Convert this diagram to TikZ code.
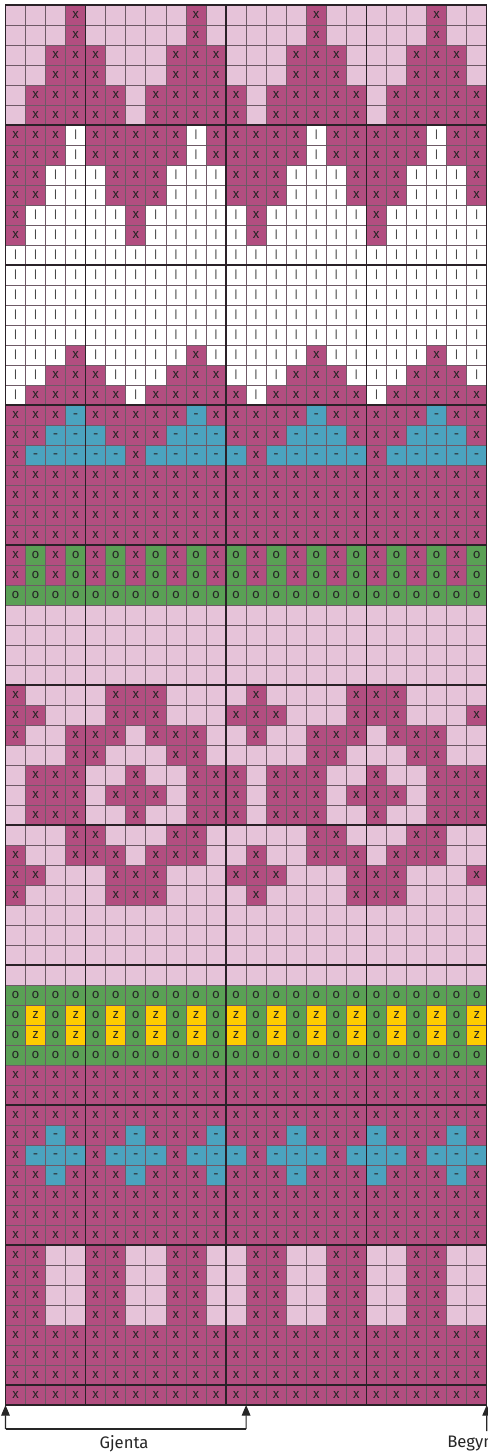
\documentclass[tikz,border=0pt]{standalone}
\usepackage{fontspec}
\setmainfont{Fira Sans}
\usetikzlibrary{arrows.meta}
\definecolor{colX}{HTML}{B24E80}
\definecolor{colL}{HTML}{E6C3D9}
\definecolor{colW}{HTML}{FFFFFF}
\definecolor{colB}{HTML}{4BA3BF}
\definecolor{colG}{HTML}{5AA055}
\definecolor{colY}{HTML}{FFCC00}
\definecolor{gridc}{HTML}{6E5A66}
\definecolor{heavyc}{HTML}{2A2228}
\newcount\rowno
\newcount\colno
\def\symX{x}\def\symL{}\def\symW{|}\def\symB{\vphantom{x}-}\def\symG{o}\def\symY{z}
\tikzset{
  cell/.style={draw=gridc, line width=0.6pt, minimum width=15.04pt, minimum height=15pt,
    inner sep=0pt, outer sep=0pt, anchor=center, text=black!85,
    font=\fontsize{10}{10}\selectfont},
  cellX/.style={fill=colX},
  cellL/.style={fill=colL},
  cellW/.style={fill=colW, font=\fontsize{8}{8}\selectfont},
  cellB/.style={fill=colB},
  cellG/.style={fill=colG},
  cellY/.style={fill=colY},
  heavy/.style={draw=heavyc, line width=1.0pt},
  bracket/.style={draw=black!85, line width=0.9pt},
  arr/.style={bracket, -{Triangle[length=8pt,width=6.5pt]}},
  lbl/.style={inner sep=0pt, text=black!85, font=\fontsize{12.5}{14}\selectfont}
}
\def\cellput#1{%
  \edef\cellname{c-\the\rowno-\the\colno}%
  \node[cell, cell#1] (\cellname) at ({5.5+20.05*(\the\colno+0.5)},{5+20*(\the\rowno+0.5)}) {\csname sym#1\endcsname};%
  \global\advance\colno by 1\relax}
\def\cellparse#1{\ifx\relax#1\let\cellnext\relax\else\def\cellnext{\cellput#1\cellparse}\fi\cellnext}
\def\cellrow#1#2{\global\rowno=#1\relax\global\colno=0\relax\cellparse#2\relax}
\begin{document}
\begin{tikzpicture}[x=0.75pt,y=-0.75pt]
\useasboundingbox (0,0) rectangle (488,1455);
\fill[white] (0,0) rectangle (488,1455);
\clip (0,0) rectangle (488,1455);
\cellrow{0}{LLLXLLLLLXLLLLLXLLLLLXLL}
\cellrow{1}{LLLXLLLLLXLLLLLXLLLLLXLL}
\cellrow{2}{LLXXXLLLXXXLLLXXXLLLXXXL}
\cellrow{3}{LLXXXLLLXXXLLLXXXLLLXXXL}
\cellrow{4}{LXXXXXLXXXXXLXXXXXLXXXXX}
\cellrow{5}{LXXXXXLXXXXXLXXXXXLXXXXX}
\cellrow{6}{XXXWXXXXXWXXXXXWXXXXXWXX}
\cellrow{7}{XXXWXXXXXWXXXXXWXXXXXWXX}
\cellrow{8}{XXWWWXXXWWWXXXWWWXXXWWWX}
\cellrow{9}{XXWWWXXXWWWXXXWWWXXXWWWX}
\cellrow{10}{XWWWWWXWWWWWXWWWWWXWWWWW}
\cellrow{11}{XWWWWWXWWWWWXWWWWWXWWWWW}
\cellrow{12}{WWWWWWWWWWWWWWWWWWWWWWWW}
\cellrow{13}{WWWWWWWWWWWWWWWWWWWWWWWW}
\cellrow{14}{WWWWWWWWWWWWWWWWWWWWWWWW}
\cellrow{15}{WWWWWWWWWWWWWWWWWWWWWWWW}
\cellrow{16}{WWWWWWWWWWWWWWWWWWWWWWWW}
\cellrow{17}{WWWXWWWWWXWWWWWXWWWWWXWW}
\cellrow{18}{WWXXXWWWXXXWWWXXXWWWXXXW}
\cellrow{19}{WXXXXXWXXXXXWXXXXXWXXXXX}
\cellrow{20}{XXXBXXXXXBXXXXXBXXXXXBXX}
\cellrow{21}{XXBBBXXXBBBXXXBBBXXXBBBX}
\cellrow{22}{XBBBBBXBBBBBXBBBBBXBBBBB}
\cellrow{23}{XXXXXXXXXXXXXXXXXXXXXXXX}
\cellrow{24}{XXXXXXXXXXXXXXXXXXXXXXXX}
\cellrow{25}{XXXXXXXXXXXXXXXXXXXXXXXX}
\cellrow{26}{XXXXXXXXXXXXXXXXXXXXXXXX}
\cellrow{27}{XGXGXGXGXGXGXGXGXGXGXGXG}
\cellrow{28}{XGXGXGXGXGXGXGXGXGXGXGXG}
\cellrow{29}{GGGGGGGGGGGGGGGGGGGGGGGG}
\cellrow{30}{LLLLLLLLLLLLLLLLLLLLLLLL}
\cellrow{31}{LLLLLLLLLLLLLLLLLLLLLLLL}
\cellrow{32}{LLLLLLLLLLLLLLLLLLLLLLLL}
\cellrow{33}{LLLLLLLLLLLLLLLLLLLLLLLL}
\cellrow{34}{XLLLLXXXLLLLXLLLLXXXLLLL}
\cellrow{35}{XXLLLXXXLLLXXXLLLXXXLLLX}
\cellrow{36}{XLLXXXLXXXLLXLLXXXLXXXLL}
\cellrow{37}{LLLXXLLLXXLLLLLXXLLLXXLL}
\cellrow{38}{LXXXLLXLLXXXLXXXLLXLLXXX}
\cellrow{39}{LXXXLXXXLXXXLXXXLXXXLXXX}
\cellrow{40}{LXXXLLXLLXXXLXXXLLXLLXXX}
\cellrow{41}{LLLXXLLLXXLLLLLXXLLLXXLL}
\cellrow{42}{XLLXXXLXXXLLXLLXXXLXXXLL}
\cellrow{43}{XXLLLXXXLLLXXXLLLXXXLLLX}
\cellrow{44}{XLLLLXXXLLLLXLLLLXXXLLLL}
\cellrow{45}{LLLLLLLLLLLLLLLLLLLLLLLL}
\cellrow{46}{LLLLLLLLLLLLLLLLLLLLLLLL}
\cellrow{47}{LLLLLLLLLLLLLLLLLLLLLLLL}
\cellrow{48}{LLLLLLLLLLLLLLLLLLLLLLLL}
\cellrow{49}{GGGGGGGGGGGGGGGGGGGGGGGG}
\cellrow{50}{GYGYGYGYGYGYGYGYGYGYGYGY}
\cellrow{51}{GYGYGYGYGYGYGYGYGYGYGYGY}
\cellrow{52}{GGGGGGGGGGGGGGGGGGGGGGGG}
\cellrow{53}{XXXXXXXXXXXXXXXXXXXXXXXX}
\cellrow{54}{XXXXXXXXXXXXXXXXXXXXXXXX}
\cellrow{55}{XXXXXXXXXXXXXXXXXXXXXXXX}
\cellrow{56}{XXBXXXBXXXBXXXBXXXBXXXBX}
\cellrow{57}{XBBBXBBBXBBBXBBBXBBBXBBB}
\cellrow{58}{XXBXXXBXXXBXXXBXXXBXXXBX}
\cellrow{59}{XXXXXXXXXXXXXXXXXXXXXXXX}
\cellrow{60}{XXXXXXXXXXXXXXXXXXXXXXXX}
\cellrow{61}{XXXXXXXXXXXXXXXXXXXXXXXX}
\cellrow{62}{XXLLXXLLXXLLXXLLXXLLXXLL}
\cellrow{63}{XXLLXXLLXXLLXXLLXXLLXXLL}
\cellrow{64}{XXLLXXLLXXLLXXLLXXLLXXLL}
\cellrow{65}{XXLLXXLLXXLLXXLLXXLLXXLL}
\cellrow{66}{XXXXXXXXXXXXXXXXXXXXXXXX}
\cellrow{67}{XXXXXXXXXXXXXXXXXXXXXXXX}
\cellrow{68}{XXXXXXXXXXXXXXXXXXXXXXXX}
\cellrow{69}{XXXXXXXXXXXXXXXXXXXXXXXX}
% heavier guide lines
\foreach \k in {6,13,20,27,34,41,48,55,62,69}
  \draw[heavy] (c-\k-0.north west) -- (c-\k-23.north east);
\foreach \k in {4,11,18}
  \draw[heavy] (c-0-\k.north west) -- (c-69-\k.south west);
\draw[heavy] (c-0-0.north west) rectangle (c-69-23.south east);
% repeat bracket and start arrow
\coordinate (gl) at (5.5,1429);
\coordinate (gm) at (246.1,1429);
\coordinate (rb) at (486.7,1431);
\draw[arr] (gl) -- (c-69-0.south west);
\draw[bracket] (gl) -- (gm);
\draw[arr] (gm) -- (c-69-11.south east);
\draw[arr] (rb) -- (c-69-23.south east);
\node[lbl] (gjenta) at (124,1444) {Gjenta};
\node[lbl, anchor=west] (begynn) at (447,1444) {Begynn};
\end{tikzpicture}
\end{document}
